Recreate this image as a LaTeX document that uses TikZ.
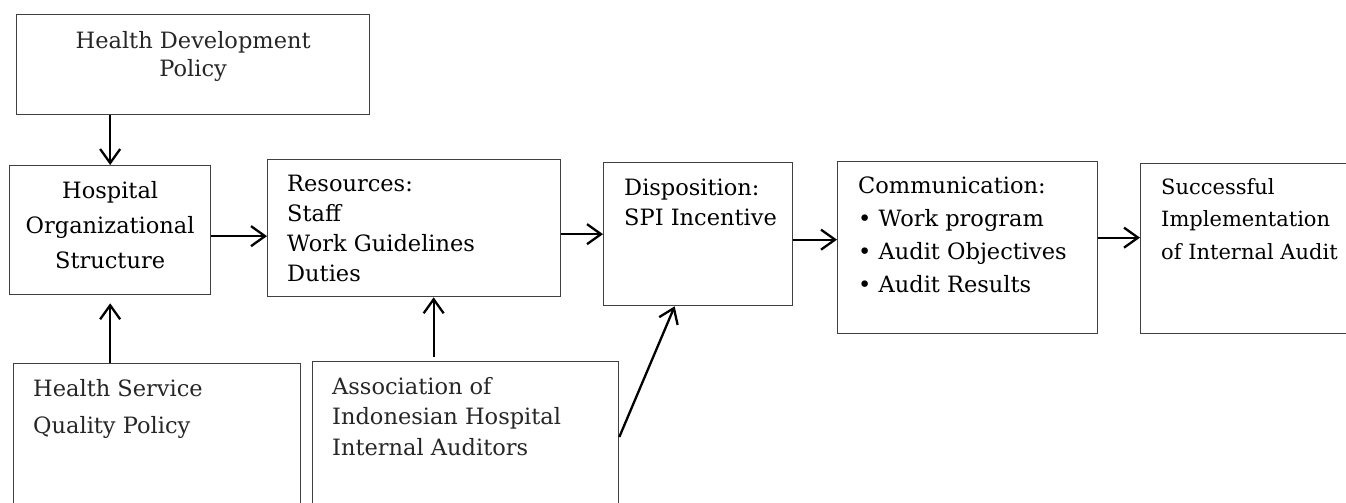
\documentclass[tikz,border=0pt]{standalone}
\usepackage{fontspec}
\setmainfont{DejaVu Serif}
\usepackage{tikz}
\usetikzlibrary{
	positioning,    % posizionamento dei nodi
	arrows.meta,    % punte delle frecce
	calc            % coordinate calcolate
}

\begin{document}
\begin{tikzpicture}[
				x=1pt, y=-1pt,
				riquadro/.style={draw=black!75, line width=1.3pt, anchor=north west, inner sep=0pt},
				testo/.style={inner sep=0pt, anchor=north west, align=left, font=\fontsize{22.5}{30}\selectfont},
				freccia/.style={-{Straight Barb[length=14pt, width=20pt]}, line width=2.3pt}
				]
				
				% --- Area del disegno ---
				\useasboundingbox (0,0) rectangle (1346,503);
				\clip (0,0) rectangle (1346,503);
				
				% --- Riquadri ---
				\node[riquadro, minimum width=353, minimum height=100] (hdp) at (16,14) {};
				\node[riquadro, minimum width=201, minimum height=129] (hos) at (9,165) {};
				\node[riquadro, minimum width=293, minimum height=137] (res) at (267,159) {};
				\node[riquadro, minimum width=189, minimum height=143] (disp) at (603,162) {};
				\node[riquadro, minimum width=260, minimum height=172] (comm) at (837,161) {};
				\node[riquadro, minimum width=260, minimum height=170] (succ) at (1140,163) {};
				\node[riquadro, minimum width=287, minimum height=200] (hsq) at (13,363) {};
				\node[riquadro, minimum width=306, minimum height=200] (aihia) at (312,361) {};
				
				% --- Testi ---
				\node[testo, anchor=north, align=center, text=black!85, font=\fontsize{22.5}{28}\selectfont]
				(hdptxt) at ([yshift=-17pt]hdp.north) {Health Development\\Policy};
				\node[testo, anchor=north, align=center, font=\fontsize{22.5}{35}\selectfont]
				(hostxt) at ([yshift=-16pt]hos.north) {Hospital\\Organizational\\Structure};
				\node[testo] (restxt) at (287,175) {Resources:\\Staff\\Work Guidelines\\Duties};
				\node[testo] (disptxt) at (624,179) {Disposition:\\SPI Incentive};
				\node[testo, font=\fontsize{22.5}{33}\selectfont] (commtxt) at (858,177)
				{Communication:\\\textbullet\ Work program\\\textbullet\ Audit Objectives\\\textbullet\ Audit Results};
				\node[testo, font=\fontsize{21}{32.5}\selectfont] (succtxt) at (1161,178)
				{Successful\\Implementation\\of Internal Audit};
				\node[testo, text=black!85, font=\fontsize{22.5}{37}\selectfont] (hsqtxt) at (33,379)
				{Health Service\\Quality Policy};
				\node[testo, text=black!85, font=\fontsize{22.5}{30.5}\selectfont] (aihiatxt) at (332,377)
				{Association of\\Indonesian Hospital\\Internal Auditors};
				
				% --- Frecce ---
				\draw[freccia] (hdp.south -| hos.north) -- (hos.north);
				\draw[freccia, shorten >=8pt] (hsq.north -| hos.south) -- (hos.south);
				\draw[freccia] ([yshift=-6pt]hos.east) -- ([yshift=-6pt]hos.east -| res.west);
				\draw[freccia] (res.east |- disp.west) -- (disp.west);
				\draw[freccia] ([yshift=-5.5pt]disp.east) -- ([yshift=-5.5pt]disp.east -| comm.west);
				\draw[freccia] ([yshift=10pt]comm.east) -- ([yshift=10pt]comm.east -| succ.west);
				\draw[freccia, shorten <=4pt] ([xshift=-32pt]aihia.north) -- ([xshift=-32pt]aihia.north |- res.south);
				\draw[freccia] ([yshift=-76pt]aihia.north east) -- ([xshift=-23.5pt]disp.south);
				
			\end{tikzpicture}
\end{document}
